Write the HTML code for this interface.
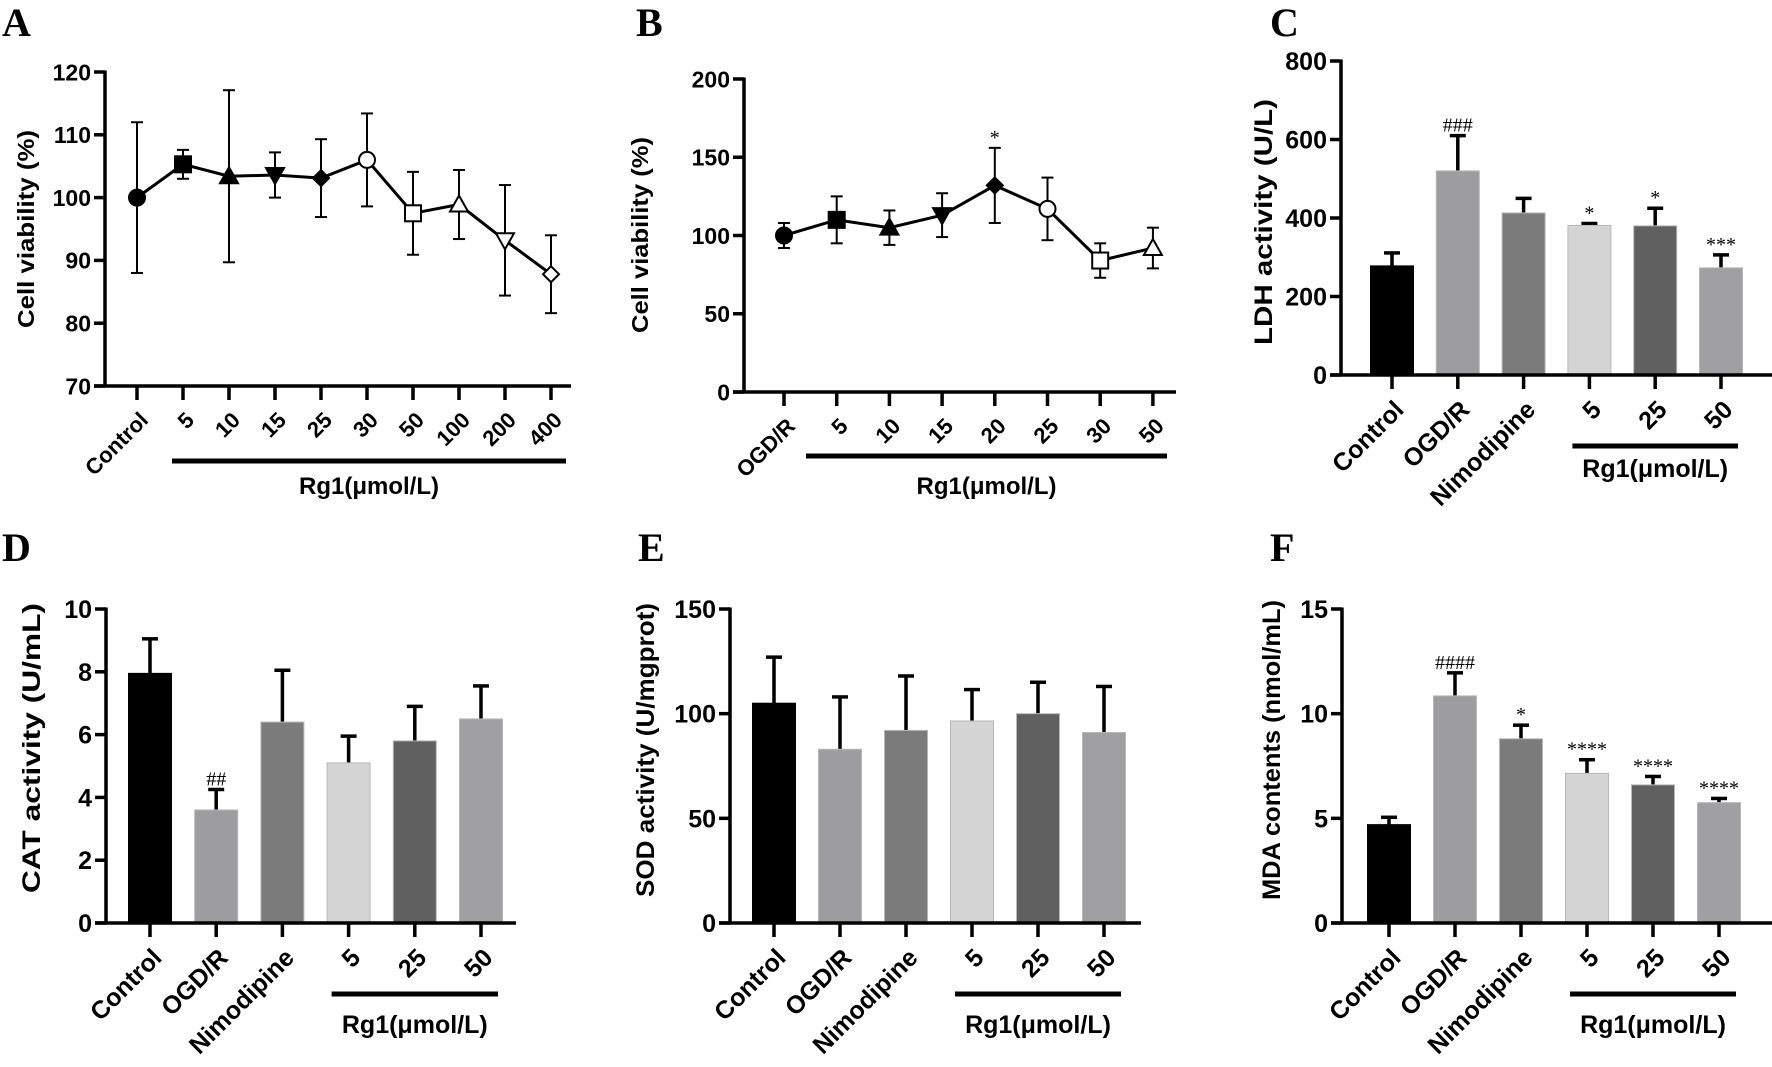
<!DOCTYPE html>
<html><head><meta charset="utf-8"><style>
html,body{margin:0;padding:0;background:#fff;}
svg{display:block;font-family:"Liberation Sans",Arial,sans-serif;}
.tk{font-weight:bold;fill:#000;}
.lt{font-family:"Liberation Serif",serif;font-weight:bold;font-size:40px;}
.an{font-family:"Liberation Serif",serif;font-size:20px;}
</style></head><body>
<svg id="fig" width="1772" height="1067" viewBox="0 0 1772 1067" xmlns="http://www.w3.org/2000/svg">
<text class="lt" x="2" y="36">A</text>
<text class="lt" x="636" y="36">B</text>
<text class="lt" x="1270" y="36">C</text>
<text class="lt" x="2" y="561">D</text>
<text class="lt" x="638" y="561">E</text>
<text class="lt" x="1270" y="561">F</text>
</svg>
<script>
// Panel A data
const aCats=["Control","5","10","15","25","30","50","100","200","400"];
const aMeans=[100,105.3,103.4,103.6,103.1,106,97.5,98.9,93.2,87.8];
const aErrs=[12,2.3,13.7,3.6,6.2,7.4,6.6,5.5,8.8,6.2];
const aMarkers=["circle","square","tri","itri","diamond","ocircle","osquare","otri","oitri","odiamond"];
const aTicks=[70,80,90,100,110,120];
// Panel B data
const bCats=["OGD/R","5","10","15","20","25","30","50"];
const bMeans=[100,110,105,113,132,117,84,92];
const bErrs=[8,15,11,14,24,20,11,13];
const bMarkers=["circle","square","tri","itri","diamond","ocircle","osquare","otri"];
const bMarks=["","","","","*","","",""];
const bTicks=[0,50,100,150,200];
// Bar panels
const barCats=["Control","OGD/R","Nimodipine","5","25","50"];
const barColors=["#000000","#9d9d9f","#7b7b7b","#d4d4d4","#606060","#a0a0a2"];
const cMeans=[278,520,413,381,380,273];
const cErrs=[33,90,37,5,45,33];
const cMarks=["","###","","*","*","***"];
const cTicks=[0,200,400,600,800];
const dMeans=[7.95,3.6,6.4,5.1,5.8,6.5];
const dErrs=[1.1,0.65,1.65,0.85,1.1,1.05];
const dMarks=["","##","","","",""];
const dTicks=[0,2,4,6,8,10];
const eMeans=[105,83,92,96.5,100,91];
const eErrs=[22,25,26,15,15,22];
const eMarks=["","","","","",""];
const eTicks=[0,50,100,150];
const fMeans=[4.7,10.85,8.8,7.15,6.6,5.75];
const fErrs=[0.35,1.1,0.65,0.65,0.4,0.2];
const fMarks=["","####","*","****","****","****"];
const fTicks=[0,5,10,15];

const NS="http://www.w3.org/2000/svg";
const svg=document.getElementById('fig');
function mk(tag,attrs,parent){const e=document.createElementNS(NS,tag);for(const k in attrs)e.setAttribute(k,attrs[k]);(parent||svg).appendChild(e);return e;}
function line(g,x1,y1,x2,y2,w){return mk('line',{x1,y1,x2,y2,stroke:'#000','stroke-width':w},g);}

function axes(g,cfg,ys){
  const {ax,y0,y1,xEnd,ticks,fs}=cfg;
  const yl=line(g,ax,y1-1.5,ax,y0+1.5,3.5);
  
  
  const xl=line(g,ax-11,y0,xEnd,y0,3.5);
  
  
  ticks.forEach(t=>{
    const y=ys(t);
    line(g,ax-11,y,ax,y,3.5);
    const tx=mk('text',{x:ax-14,y:y+fs*0.36,'text-anchor':'end','font-size':fs,class:'tk'},g);
    tx.textContent=t;
    
    
  });
}
function xlabels(g,cats,xs,y0,fs){
  cats.forEach((c,i)=>{
    const x=xs(i);
    line(g,x,y0,x,y0+14,3.5);
    const t=mk('text',{transform:`translate(${x+7},${y0+30}) rotate(-45)`,'text-anchor':'end','font-size':fs,class:'tk','dy':'0.35em'},g);
    t.textContent=c;
    
    
  });
}
function ytitle(g,txt,x,cy,len,fs){
  const t=mk('text',{transform:`translate(${x},${cy}) rotate(-90)`,'text-anchor':'middle','font-size':fs,class:'tk',textLength:len,lengthAdjust:'spacingAndGlyphs'},g);
  t.textContent=txt;
  
  
}
function group(g,x1,x2,uy,ly,fs){
  const u=mk('rect',{x:x1,y:uy-2.5,width:x2-x1,height:5,fill:'#000'},g);
  
  
  const t=mk('text',{x:(x1+x2)/2,y:ly,'text-anchor':'middle','font-size':fs,class:'tk'},g);
  t.textContent='Rg1(μmol/L)';
  
  
}
function marker(g,type,x,y){
  const s=8, open=type.startsWith('o'), base=open?type.slice(1):type;
  const at={fill:open?'#fff':'#000',stroke:'#000','stroke-width':2};
  let e;
  if(base==='circle') e=mk('circle',Object.assign({cx:x,cy:y,r:s},at),g);
  else if(base==='square') e=mk('rect',Object.assign({x:x-s,y:y-s,width:2*s,height:2*s},at),g);
  else if(base==='tri') e=mk('polygon',Object.assign({points:`${x},${y-s-1} ${x+s+1},${y+s-1} ${x-s-1},${y+s-1}`},at),g);
  else if(base==='itri') e=mk('polygon',Object.assign({points:`${x},${y+s+1} ${x+s+1},${y-s+1} ${x-s-1},${y-s+1}`},at),g);
  else e=mk('polygon',Object.assign({points:`${x},${y-s} ${x+s},${y} ${x},${y+s} ${x-s},${y}`},at),g);
  return e;
}
function linePanel(name,cfg,cats,means,errs,markers,marks){
  const g=mk('g',{});
  
  
  const ys=v=>cfg.y0-(v-cfg.vmin)/(cfg.vmax-cfg.vmin)*(cfg.y0-cfg.y1);
  const xs=i=>cfg.x0+i*cfg.dx;
  axes(g,cfg,ys);
  xlabels(g,cats,xs,cfg.y0,cfg.fs-1);
  means.forEach((m,i)=>{
    const x=xs(i);
    const eb=line(g,x,ys(m+errs[i]),x,ys(m-errs[i]),2);
    
    
    line(g,x-6,ys(m+errs[i]),x+6,ys(m+errs[i]),2);
    line(g,x-6,ys(m-errs[i]),x+6,ys(m-errs[i]),2);
    if(marks[i]){const t=mk('text',{x:x,y:ys(m+errs[i])-4,'text-anchor':'middle',class:'an'},g);t.textContent=marks[i];
      
      }
  });
  const p=mk('polyline',{points:means.map((m,i)=>xs(i)+','+ys(m)).join(' '),fill:'none',stroke:'#000','stroke-width':3},g);
  
  
  means.forEach((m,i)=>{
    const e=marker(g,markers[i],xs(i),ys(m));
    
    
  });
  return {g,xs};
}
function barPanel(name,cfg,means,errs,marks){
  const g=mk('g',{});
  
  
  const ys=v=>cfg.y0-(v-cfg.vmin)/(cfg.vmax-cfg.vmin)*(cfg.y0-cfg.y1);
  const xs=i=>cfg.x0+i*cfg.dx;
  means.forEach((m,i)=>{
    const x=xs(i), top=ys(m+errs[i]);
    const eb=line(g,x,top,x,ys(m),3.5);
    
    
    line(g,x-8,top,x+8,top,3.5);
    const r=mk('rect',{x:x-21.5,y:ys(m),width:43,height:cfg.y0-ys(m),fill:barColors[i],stroke:i===0?'#000':'#b8b8b8','stroke-width':1},g);
    
    
    if(marks[i]){const t=mk('text',{x:x,y:top-4,'text-anchor':'middle',class:'an'},g);t.textContent=marks[i];
      
      }
  });
  axes(g,cfg,ys);
  xlabels(g,barCats,xs,cfg.y0,cfg.fs);
  group(g,xs(3)-17,xs(5)+17,cfg.uy,cfg.ly,25);
  ytitle(g,cfg.title,cfg.tx,cfg.tcy,cfg.tlen,25);
}

const A=linePanel('panel-a-chart',{ax:105,y0:386,y1:72,vmin:70,vmax:120,xEnd:571,ticks:aTicks,fs:23,x0:137,dx:46},aCats,aMeans,aErrs,aMarkers,aCats.map(()=>''));
group(A.g,172,566,461,494,24);
ytitle(A.g,'Cell viability (%)',34,229,198,23);

const B=linePanel('panel-b-chart',{ax:744,y0:392,y1:79,vmin:0,vmax:200,xEnd:1176,ticks:bTicks,fs:23,x0:784,dx:52.7},bCats,bMeans,bErrs,bMarkers,bMarks);
group(B.g,806,1167,456,494,24);
ytitle(B.g,'Cell viability (%)',648,235,196,23);

barPanel('panel-c-chart',{ax:1341,y0:375,y1:61,vmin:0,vmax:800,xEnd:1772,ticks:cTicks,fs:25,x0:1392,dx:65.8,uy:446,ly:477,title:'LDH activity (U/L)',tx:1272,tcy:222,tlen:246},cMeans,cErrs,cMarks);
barPanel('panel-d-chart',{ax:106,y0:923,y1:609,vmin:0,vmax:10,xEnd:516,ticks:dTicks,fs:25,x0:150,dx:66.2,uy:994,ly:1033,title:'CAT activity (U/mL)',tx:40,tcy:748,tlen:290},dMeans,dErrs,dMarks);
barPanel('panel-e-chart',{ax:730,y0:923,y1:609,vmin:0,vmax:150,xEnd:1141,ticks:eTicks,fs:25,x0:774,dx:66,uy:994,ly:1033,title:'SOD activity (U/mgprot)',tx:654,tcy:750,tlen:294},eMeans,eErrs,eMarks);
barPanel('panel-f-chart',{ax:1342,y0:923,y1:609,vmin:0,vmax:15,xEnd:1772,ticks:fTicks,fs:25,x0:1389,dx:66,uy:994,ly:1033,title:'MDA contents (nmol/mL)',tx:1280,tcy:750,tlen:300},fMeans,fErrs,fMarks);
</script>
</body></html>
